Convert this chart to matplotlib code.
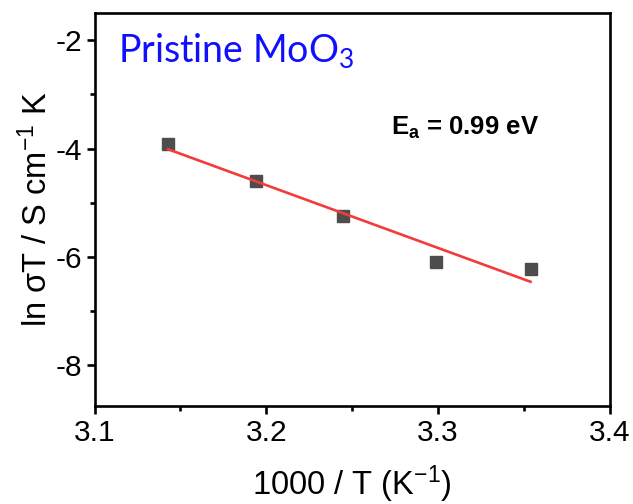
import matplotlib
matplotlib.use("Agg")
import matplotlib.pyplot as plt
from matplotlib.ticker import MultipleLocator

plt.rcParams['font.family'] = ['Liberation Sans', 'DejaVu Sans']
plt.rcParams['mathtext.fontset'] = 'custom'
plt.rcParams['mathtext.rm'] = 'Liberation Sans'
plt.rcParams['mathtext.it'] = 'Liberation Sans:italic'
plt.rcParams['mathtext.bf'] = 'Liberation Sans:bold'
plt.rcParams['mathtext.default'] = 'regular'

# data
inv_T = [3.143, 3.194, 3.245, 3.299, 3.354]
ln_sigmaT = [-3.917, -4.60, -5.245, -6.094, -6.223]
fit_x = [3.143, 3.354]
fit_y = [-4.015, -6.458]
x_ticks = [3.1, 3.2, 3.3, 3.4]
y_ticks = [-8, -6, -4, -2]

fig = plt.figure(figsize=(6.33, 5.04), dpi=100)
ax = fig.add_axes([0.1493, 0.1944, 0.8136, 0.7798])

ax.plot(inv_T, ln_sigmaT, linestyle='none', marker='s', markersize=9,
        color='#4d4d4d', markeredgecolor='#4d4d4d', zorder=3)
ax.plot(fit_x, fit_y, color='#f23b3b', linewidth=1.9, zorder=4)

ax.set_xlim(3.1, 3.4)
ax.set_ylim(-8.75, -1.5)
ax.set_xticks(x_ticks)
ax.set_yticks(y_ticks)
ax.set_xticklabels([f"{v:.1f}" for v in x_ticks])
ax.set_yticklabels([f"{v:d}" for v in y_ticks])
ax.xaxis.set_minor_locator(MultipleLocator(0.05))
ax.yaxis.set_minor_locator(MultipleLocator(1))

for s in ax.spines.values():
    s.set_linewidth(1.9)
ax.tick_params(which='major', direction='out', length=6, width=1.9, labelsize=21.5, pad=3)
ax.tick_params(which='minor', direction='out', length=3.5, width=1.9)

ax.set_xlabel('1000 / T (K$^{\u22121}$)', fontsize=23.5, labelpad=12)
ax.set_ylabel('ln \u03c3T / S cm$^{\u22121}$ K', fontsize=23.5, labelpad=1)

ax.text(0.045, 0.955, 'Pristine MoO$_3$', transform=ax.transAxes, color='#1010ff',
        fontsize=27, family=['Lato', 'DejaVu Sans'], va='top', ha='left')
ax.text(0.575, 0.69, 'E$_a$ = 0.99 eV', transform=ax.transAxes, color='black',
        fontsize=18.5, fontweight='bold', va='baseline', ha='left')

fig.savefig('out.png', dpi=100)
